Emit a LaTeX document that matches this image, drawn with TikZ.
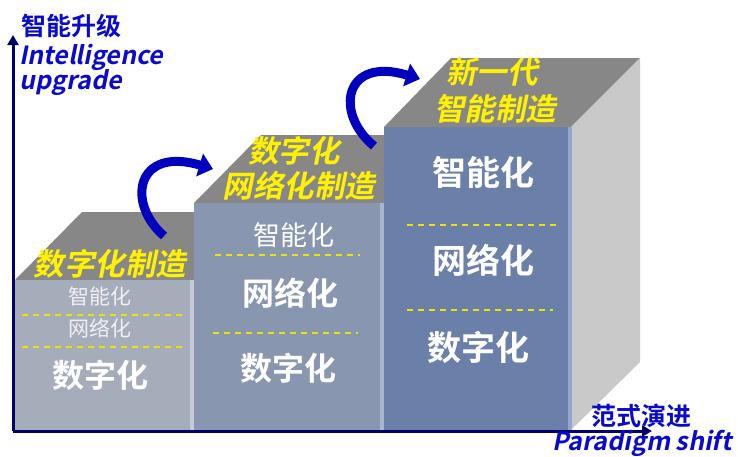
\documentclass[tikz,border=0pt]{standalone}
\usepackage{fontspec}
\usetikzlibrary{arrows.meta}
\newfontfamily\cjk{Noto Sans CJK SC}[BoldFont={Noto Sans CJK SC Bold}]
\newfontfamily\cjksl{Noto Sans CJK SC Bold}[FakeSlant=0.2]
\definecolor{topgray}{HTML}{878787}
\definecolor{sidegray}{HTML}{C9C9C9}
\definecolor{frontA}{HTML}{A6ADBA}
\definecolor{frontB}{HTML}{8896AF}
\definecolor{frontC}{HTML}{6B80A8}
\definecolor{hlA}{HTML}{C4CAD6}
\definecolor{hlB}{HTML}{A9B6CF}
\definecolor{hlC}{HTML}{93A6CC}
\definecolor{axisnavy}{HTML}{000066}
\definecolor{labelblue}{HTML}{0A0ACC}
\definecolor{curveblue}{HTML}{0000BE}
\definecolor{dashyellow}{HTML}{E6E600}
\definecolor{softwhite}{HTML}{EEF0F4}
\tikzset{
  axisline/.style={draw=axisnavy,line width=3pt,-{Triangle[width=11pt,length=10pt]}},
  stepcurve/.style={draw=curveblue,line width=9pt,-{Triangle[width=23pt,length=14pt]}},
  divider/.style={draw=dashyellow,line width=1.6pt,dash pattern=on 6pt off 5pt},
  ylabel/.style={font=\cjksl\fontsize{30.5}{34}\selectfont,text=yellow,inner sep=0pt},
  layerbold/.style={font=\cjk\bfseries\fontsize{32}{36}\selectfont,text=white,inner sep=0pt},
  layerlight/.style={font=\cjk\fontsize{21}{24}\selectfont,text=softwhite,inner sep=0pt},
  axislabel/.style={font=\cjk\bfseries\fontsize{25}{28}\selectfont,text=labelblue,inner sep=0pt,anchor=base west},
  axisenglish/.style={font=\cjksl\fontsize{25}{28}\selectfont,text=labelblue,inner sep=0pt,anchor=base west}
}
\begin{document}
\begin{tikzpicture}[x=1pt,y=-1pt]
\useasboundingbox (0,0) rectangle (738,456);
% top faces
\fill[topgray] (15,280) -- (82,212) -- (261,212) -- (194,280) -- cycle;
\fill[topgray] (194,203) -- (261,135) -- (451,135) -- (384,203) -- cycle;
\fill[topgray] (384,127) -- (451,58) -- (640,58) -- (571,127) -- cycle;
% right face of last box
\fill[sidegray] (571,127) -- (640,58) -- (640,362) -- (571,430) -- cycle;
% front faces
\fill[frontA] (15,280) rectangle (194,430);
\fill[hlA] (190,280) rectangle (194,430);
\fill[frontB] (194,203) rectangle (384,430);
\fill[hlB] (380,203) rectangle (384,430);
\fill[frontC] (384,127) rectangle (571,430);
\fill[hlC] (568,127) rectangle (572,430);
% axes
\coordinate (O) at (13,431);
\coordinate (ytip) at (13,35);
\coordinate (xtip) at (652,431);
\draw[axisline] (O) -- (ytip);
\draw[axisline] (O) -- (xtip);
% axis labels
\node[axislabel] (up) at (21,35) {智能升级};
\node[axisenglish] (upen1) at (19,64) {Intelligence};
\node[axisenglish] (upen2) at (19,89) {upgrade};
\node[axislabel] (shift) at (591,425) {范式演进};
\node[axisenglish] (shiften) at (552,450) {Paradigm shift};
% box 1
\node[ylabel] (t1) at (110,264) {数字化制造};
\node[layerlight] (a1) at (100,296) {智能化};
\draw[divider] (22,315) -- (182,315);
\node[layerlight] (a2) at (100,328) {网络化};
\draw[divider] (22,347) -- (182,347);
\node[layerbold] (a3) at (100,375) {数字化};
% box 2
\node[ylabel] (t2a) at (294,151) {数字化};
\node[ylabel] (t2b) at (299,186) {网络化制造};
\node[layerlight,font=\cjk\fontsize{27}{30}\selectfont,text=white] (b1) at (294,235) {智能化};
\draw[divider] (215,255) -- (360,255);
\node[layerbold] (b2) at (290,293) {网络化};
\draw[divider] (213,333) -- (358,333);
\node[layerbold] (b3) at (288,368) {数字化};
% box 3
\node[ylabel] (t3a) at (492,72) {新一代};
\node[ylabel] (t3b) at (495,109) {智能制造};
\node[layerbold,font=\cjk\bfseries\fontsize{34}{38}\selectfont] (c1) at (483,172) {智能化};
\draw[divider] (407,225) -- (560,225);
\node[layerbold,font=\cjk\bfseries\fontsize{34}{38}\selectfont] (c2) at (483,260) {网络化};
\draw[divider] (407,310) -- (553,310);
\node[layerbold,font=\cjk\bfseries\fontsize{34}{38}\selectfont] (c3) at (478,348) {数字化};
% curved arrows
\coordinate (s1) at (164,236);
\coordinate (e1) at (213,169);
\draw[stepcurve] (s1) .. controls (126,203) and (136,146) .. (e1);
\coordinate (s2) at (374,146);
\coordinate (e2) at (420,79);
\draw[stepcurve] (s2) .. controls (334,113) and (344,56) .. (e2);
\end{tikzpicture}
\end{document}
